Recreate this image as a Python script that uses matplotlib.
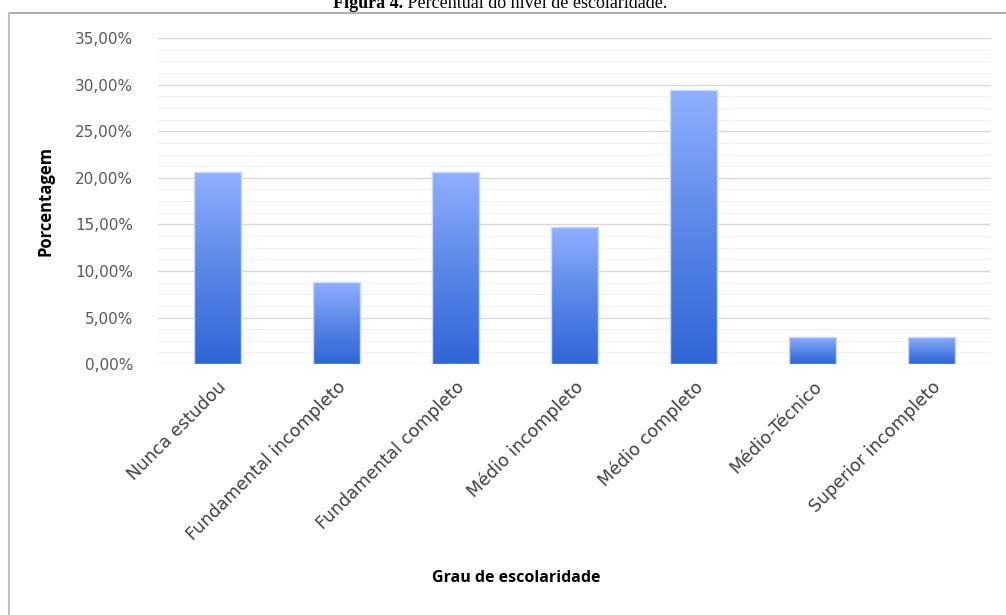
import numpy as np
import matplotlib
matplotlib.use("Agg")
import matplotlib.pyplot as plt
from matplotlib.colors import LinearSegmentedColormap
from matplotlib.lines import Line2D
from matplotlib.patches import Rectangle

categories = [
    "Nunca estudou",
    "Fundamental incompleto",
    "Fundamental completo",
    "Médio incompleto",
    "Médio completo",
    "Médio-Técnico",
    "Superior incompleto",
]
values = [20.59, 8.82, 20.59, 14.71, 29.41, 2.94, 2.94]
yticks = [0, 5, 10, 15, 20, 25, 30, 35]

text_font = ["DejaVu Sans"]

fig = plt.figure(figsize=(10.06, 6.15), dpi=100)
ax = fig.add_axes([0.157, 0.408, 0.828, 0.530])

x = np.arange(len(categories))
bars = ax.bar(x, values, width=0.4, color="none", edgecolor="none", zorder=3)

# vertical gradient fill, clipped to each bar
cmap = LinearSegmentedColormap.from_list("bar_grad", ["#2f66d6", "#5b87e8", "#90b0ff"])
grad = np.linspace(0, 1, 256).reshape(-1, 1)
for b in bars:
    x0, w, h = b.get_x(), b.get_width(), b.get_height()
    im = ax.imshow(grad, cmap=cmap, origin="lower", aspect="auto",
                   extent=[x0, x0 + w, 0, h], zorder=3)
    im.set_clip_path(b)
    ax.add_patch(Rectangle((x0, 0), w, h, fill=False, edgecolor="#c9d8ff",
                           linewidth=1.0, zorder=4))

ax.set_xlim(-0.5, len(categories) - 0.5)
ax.set_ylim(0, 35)
ax.set_yticks(yticks)
ax.set_yticklabels([f"{v:.2f}%".replace(".", ",") for v in yticks],
                   fontsize=11, color="#595959", family=text_font)
ax.set_yticks(np.arange(0, 35, 1.25), minor=True)
ax.grid(axis="y", which="major", color="#d9d9d9", linewidth=1.0, zorder=0)
ax.grid(axis="y", which="minor", color="#f2f2f2", linewidth=0.8, zorder=0)
ax.tick_params(axis="both", which="both", length=0)
ax.tick_params(axis="y", pad=18)
ax.tick_params(axis="x", pad=10)
ax.set_xticks(x)
ax.set_xticklabels(categories, rotation=45, ha="right", rotation_mode="anchor",
                   fontsize=12.5, color="#404040", family=text_font)
for s in ax.spines.values():
    s.set_visible(False)

fig.text(45 / 1006, 1 - 201 / 615, "Porcentagem", rotation=90, ha="center", va="center",
         fontsize=12, fontweight="bold", color="#000000", family=["Open Sans"])
fig.text(516 / 1006, 1 - 578 / 615, "Grau de escolaridade", ha="center", va="center",
         fontsize=11.5, fontweight="bold", family=["Open Sans"])

# chart frame (top and left edges)
fig.add_artist(Line2D([9 / 1006, 1.0], [1 - 13 / 615, 1 - 13 / 615],
                      transform=fig.transFigure, color="#b0b0b0", linewidth=1.5))
fig.add_artist(Line2D([9 / 1006, 9 / 1006], [0, 1 - 13 / 615],
                      transform=fig.transFigure, color="#c0c0c0", linewidth=1.5))

# caption, partly cut off by the top edge
cap_y = 1.0 - 8 / 615
t1 = fig.text(333 / 1006, cap_y, "Figura 4.", ha="left", va="baseline",
              fontsize=13, fontweight="bold", family="Liberation Serif")
fig.canvas.draw()
bb = t1.get_window_extent(renderer=fig.canvas.get_renderer())
fig.text(bb.x1 / fig.bbox.width, cap_y, " Percentual do nível de escolaridade.",
         ha="left", va="baseline", fontsize=13, family="Liberation Serif")

fig.savefig("out.png", dpi=100)
